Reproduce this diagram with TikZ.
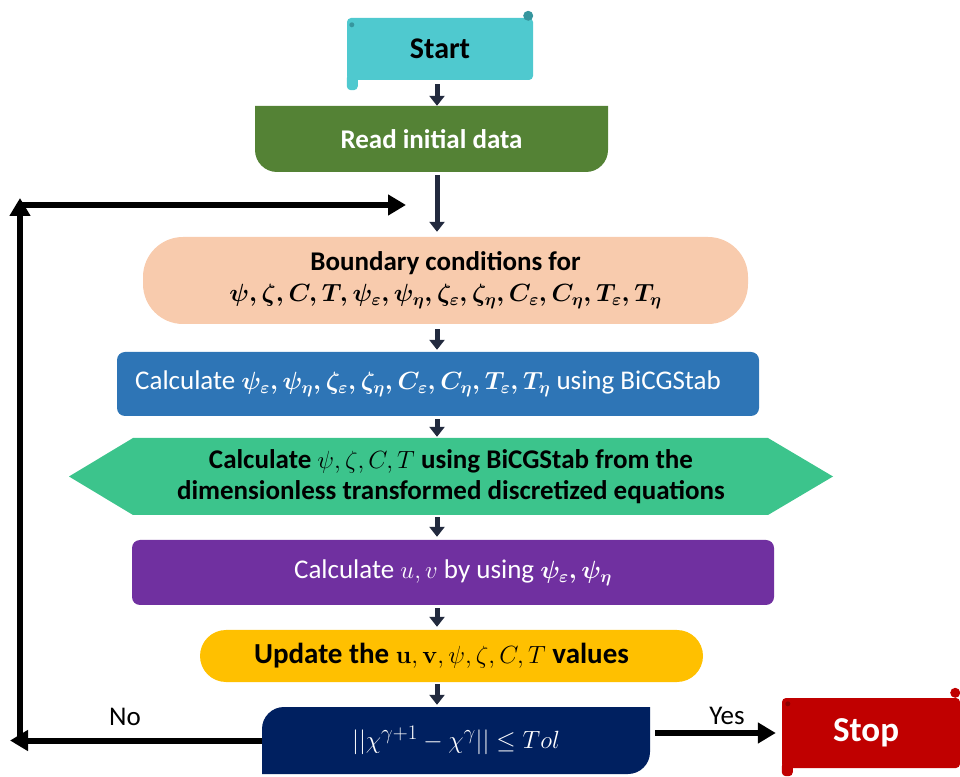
\documentclass[tikz,border=0pt]{standalone}
\usepackage{amsmath}
\usepackage[no-math]{fontspec}
\setmainfont{Carlito}
\usepackage{tikz}
\usetikzlibrary{arrows.meta,positioning,calc}
\newcommand{\flowfont}{\fontsize{27}{31}\selectfont}
\tikzset{
  >=Stealth,
  every node/.append style={font=\flowfont},
}
\tikzset{
  stage/.style={draw=none, inner sep=0pt, align=center, text=white},
  flow/.style={-{Triangle[width=15pt,length=10pt]}, line width=5pt, draw=arrowdark},
  backarrow/.style={-{Triangle[width=20pt,length=18pt]}, line width=6pt, draw=black},
  % bottom corners rounded
  lowround/.style={path picture={
    \fill[#1] (path picture bounding box.north west) -- (path picture bounding box.north east)
      -- ([yshift=22pt]path picture bounding box.south east)
      arc[start angle=0, end angle=-90, radius=22pt]
      -- ([xshift=22pt]path picture bounding box.south west)
      arc[start angle=270, end angle=180, radius=22pt] -- cycle;}},
  % top left and bottom right rounded
  cornerfill/.style={path picture={
    \fill[#1] ([yshift=-22pt]path picture bounding box.north west)
      arc[start angle=180, end angle=90, radius=22pt]
      -- (path picture bounding box.north east)
      -- ([yshift=22pt]path picture bounding box.south east)
      arc[start angle=0, end angle=-90, radius=22pt]
      -- (path picture bounding box.south west) -- cycle;}},
  % pointed at both ends
  hexfill/.style={path picture={
    \fill[#1] ([xshift=64pt]path picture bounding box.north west)
      -- ([xshift=-65pt]path picture bounding box.north east)
      -- (path picture bounding box.east)
      -- ([xshift=-65pt]path picture bounding box.south east)
      -- ([xshift=64pt]path picture bounding box.south west)
      -- (path picture bounding box.west) -- cycle;}}
}

\begin{document}
\begin{tikzpicture}[x=1pt, y=1pt]
% Color definitions
\definecolor{startcyan}{RGB}{79,201,207}
\definecolor{startcurl}{RGB}{54,150,158}
\definecolor{readgreen}{RGB}{84,130,53}
\definecolor{bcpeach}{RGB}{248,203,173}
\definecolor{calcblue}{RGB}{46,117,182}
\definecolor{solvegreen}{RGB}{60,196,140}
\definecolor{velopurple}{RGB}{112,48,160}
\definecolor{updateyellow}{RGB}{255,192,0}
\definecolor{checknavy}{RGB}{0,32,96}
\definecolor{stopred}{RGB}{192,0,0}
\definecolor{stopcurl}{RGB}{140,0,0}
\definecolor{arrowdark}{RGB}{34,42,62}

\useasboundingbox (0,0) rectangle (960,776);

% Solver stages
\node[stage, fill=startcyan, rounded corners=4pt, minimum width=186pt, minimum height=62pt, text=black, font=\fontsize{30}{34}\selectfont\bfseries] (start) at (440,727) {Start};
\node[stage, lowround=readgreen, minimum width=353pt, minimum height=66pt, font=\flowfont\bfseries] (read) at (431.5,637) {Read initial data};
\node[stage, fill=bcpeach, rounded corners=40pt, minimum width=605pt, minimum height=87pt, text=black, font=\flowfont\bfseries] (bound) at (445.5,495.5) {Boundary conditions for\\ {\boldmath$\psi, \zeta, C, T, \psi_\varepsilon, \psi_\eta, \zeta_\varepsilon, \zeta_\eta, C_\varepsilon, C_\eta, T_\varepsilon, T_\eta$}};
\node[stage, fill=calcblue, rounded corners=8pt, minimum width=642pt, minimum height=64pt] (calcd) at (438,392) {\hspace*{-20pt}Calculate {\boldmath$\psi_\varepsilon, \psi_\eta, \zeta_\varepsilon, \zeta_\eta, C_\varepsilon, C_\eta, T_\varepsilon, T_\eta$} using BiCGStab};
\node[stage, hexfill=solvegreen, minimum width=764pt, minimum height=77pt, text=black, font=\flowfont\bfseries] (solve) at (451,299.5) {Calculate $\psi, \zeta, C, T$ using BiCGStab from the\\ dimensionless transformed discretized equations};
\node[stage, fill=velopurple, rounded corners=8pt, minimum width=642pt, minimum height=65pt] (velo) at (453,203.5) {Calculate $u, v$ by using {\boldmath$\psi_\varepsilon, \psi_\eta$}};
\node[stage, fill=updateyellow, rounded corners=26pt, minimum width=503pt, minimum height=52pt, text=black, font=\fontsize{29}{33}\selectfont\bfseries] (update) at (451.5,120) {\hspace*{-20pt}Update the $\mathbf{u}, \mathbf{v}, \psi, \zeta, C, T$ values};
\node[stage, cornerfill=checknavy, minimum width=388pt, minimum height=67pt, font=\fontsize{28}{32}\selectfont] (check) at (456,35.5) {$||\chi^{\gamma+1} - \chi^{\gamma}|| \leq Tol$};
\node[stage, fill=stopred, rounded corners=4pt, minimum width=178pt, minimum height=70pt, font=\fontsize{35}{40}\selectfont\bfseries] (stop) at (871,43) {\hspace*{-10pt}Stop};

% Scroll curls
\fill[startcurl] ([xshift=-5pt,yshift=2pt]start.north east) circle (5pt);
\fill[startcyan, rounded corners=4pt] ([yshift=6pt]start.south west) rectangle ([xshift=11pt,yshift=-10pt]start.south west);
\fill[startcurl] ([xshift=5pt,yshift=-7pt]start.north west) circle (2.5pt);
\fill[stopred] ([xshift=-5pt,yshift=5pt]stop.north east) circle (5pt);
\fill[stopred, rounded corners=4pt] ([yshift=6pt]stop.south west) rectangle ([xshift=11pt,yshift=-8pt]stop.south west);
\fill[stopcurl] ([xshift=6pt,yshift=-6pt]stop.north west) circle (2.5pt);

% Flow arrows
\coordinate (spine) at (437,0);
\draw[flow, shorten <=4pt] (start.south -| spine) -- (read.north -| spine);
\draw[flow, shorten <=3pt, shorten >=5pt] (read.south -| spine) -- (bound.north -| spine);
\draw[flow, shorten <=5pt, shorten >=2pt] (bound.south -| spine) -- (calcd.north -| spine);
\draw[flow, shorten <=3pt, shorten >=1pt] (calcd.south -| spine) -- (solve.north -| spine);
\draw[flow, shorten <=2pt, shorten >=3pt] (solve.south -| spine) -- (velo.north -| spine);
\draw[flow, shorten <=3pt, shorten >=3pt] (velo.south -| spine) -- (update.north -| spine);
\draw[flow, shorten <=2pt, shorten >=2pt] (update.south -| spine) -- (check.north -| spine);

% Iteration loop
\coordinate (noend) at (10,35.5);
\coordinate (upfoot) at (20,33);
\coordinate (uptop) at (20,578);
\coordinate (backin) at (406,571);
\draw[backarrow] (check.west) -- (noend);
\draw[backarrow] (upfoot) -- (uptop);
\draw[backarrow] (uptop |- backin) -- (backin);
\draw[backarrow, shorten <=5pt, shorten >=6pt] (check.east |- stop.west) -- (stop.west);
\node (nolabel) at (125,59) {No};
\node (yeslabel) at (727,60) {Yes};
\end{tikzpicture}
\end{document}
